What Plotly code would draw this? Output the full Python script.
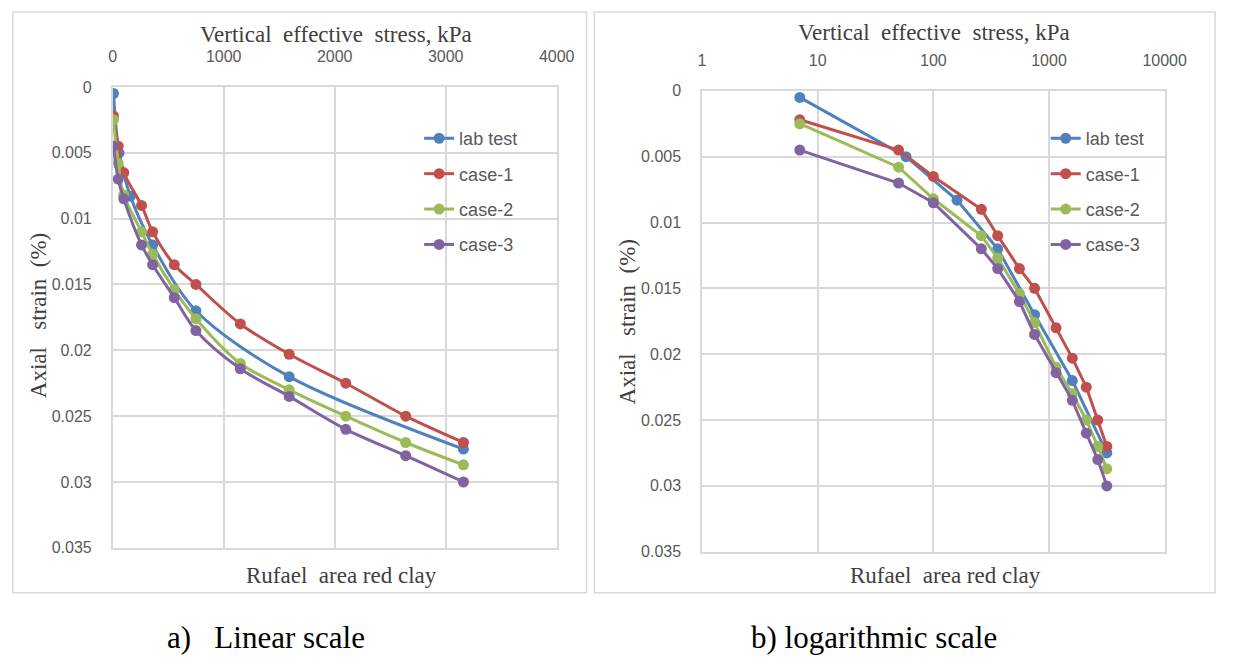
import plotly.graph_objects as go

# ---------------- data ----------------
stress = [7, 50, 100, 260, 360, 555, 750, 1150, 1590, 2100, 2640, 3160]
lab_stress = [7, 58, 160, 360, 750, 1590, 3160]
lab_test = [0.0005, 0.005, 0.0083, 0.012, 0.017, 0.022, 0.0275]
case_1 = [0.0022, 0.0045, 0.0065, 0.009, 0.011, 0.0135, 0.015, 0.018, 0.0203, 0.0225, 0.025, 0.027]
case_2 = [0.0025, 0.0058, 0.0082, 0.011, 0.0127, 0.0154, 0.0176, 0.021, 0.023, 0.025, 0.027, 0.0287]
case_3 = [0.0045, 0.007, 0.0085, 0.012, 0.0135, 0.016, 0.0185, 0.0214, 0.0235, 0.026, 0.028, 0.030]

series_names = ["lab test", "case-1", "case-2", "case-3"]
colors = ["#4F81BD", "#C0504D", "#9BBB59", "#8064A2"]

lin_xticks = [0, 1000, 2000, 3000, 4000]
log_xticks = [1, 10, 100, 1000, 10000]
y_ticks = [0, 0.005, 0.01, 0.015, 0.02, 0.025, 0.03, 0.035]
y_ticktext = ["0", "0.005", "0.01", "0.015", "0.02", "0.025", "0.03", "0.035"]

W, H = 1241, 665
def px(x):
    return x / W
def py(y):
    return 1 - y / H

TICK_FONT = dict(family="Liberation Sans Narrow, Arial Narrow, Liberation Sans, sans-serif", size=16, color="#595959")
SERIF = "Liberation Serif, Times New Roman, serif"
GRID = "#d9d9d9"

fig = go.Figure()

xs = [lab_stress, stress, stress, stress]
ys = [lab_test, case_1, case_2, case_3]

for i in range(4):
    fig.add_trace(go.Scatter(
        x=xs[i], y=ys[i], name=series_names[i], mode="lines+markers",
        line=dict(color=colors[i], width=3, shape="spline", smoothing=0.9),
        marker=dict(color=colors[i], size=11),
        xaxis="x", yaxis="y", legend="legend", legendgroup="L%d" % i,
    ))
for i in range(4):
    fig.add_trace(go.Scatter(
        x=xs[i], y=ys[i], name=series_names[i], mode="lines+markers",
        line=dict(color=colors[i], width=3),
        marker=dict(color=colors[i], size=11),
        xaxis="x2", yaxis="y2", legend="legend2", legendgroup="R%d" % i,
    ))

common_x = dict(side="top", showgrid=True, gridcolor=GRID, gridwidth=1.5,
                showline=True, mirror=True, linecolor=GRID, linewidth=1.5,
                zeroline=False, ticks="outside", ticklen=17, tickcolor="rgba(0,0,0,0)",
                tickfont=TICK_FONT)
common_y = dict(showgrid=True, gridcolor=GRID, gridwidth=1.5,
                showline=True, mirror=True, linecolor=GRID, linewidth=1.5,
                zeroline=False, ticks="outside", ticklen=16, tickcolor="rgba(0,0,0,0)",
                tickfont=TICK_FONT, range=[0.035, 0], tickvals=y_ticks, ticktext=y_ticktext)

legend_common = dict(font=dict(family=TICK_FONT["family"], size=18, color="#595959"),
                     bgcolor="rgba(0,0,0,0)", borderwidth=0, tracegroupgap=9,
                     xanchor="left", yanchor="top", traceorder="grouped")

fig.update_layout(
    width=W, height=H, margin=dict(l=0, r=0, t=0, b=0),
    paper_bgcolor="white", plot_bgcolor="white",
    xaxis=dict(domain=[px(111), px(564.5)], anchor="y", range=[0, 4000],
               tickvals=lin_xticks, ticktext=[str(v) for v in lin_xticks], **common_x),
    yaxis=dict(domain=[py(554), py(81)], anchor="x", **common_y),
    xaxis2=dict(domain=[px(713), px(1185.5)], anchor="y2", type="log", range=[0, 4],
                tickvals=log_xticks, ticktext=[str(v) for v in log_xticks], **common_x),
    yaxis2=dict(domain=[py(558), py(85)], anchor="x2", **common_y),
    legend=dict(x=px(424), y=py(115), **legend_common),
    legend2=dict(x=px(1064), y=py(115), **legend_common),
    showlegend=True,
)

nb = "\u00a0"
annotations = [
    dict(text="Vertical" + nb * 2 + "effective" + nb * 2 + "stress," + nb + "kPa", x=px(339), y=py(27), font_size=23),
    dict(text="Vertical" + nb * 2 + "effective" + nb * 2 + "stress," + nb + "kPa", x=px(950), y=py(25), font_size=23),
    dict(text="Axial" + nb * 3 + "strain" + nb * 2 + "(%)", x=px(36), y=py(316), font_size=23, textangle=-90),
    dict(text="Axial" + nb * 3 + "strain" + nb * 2 + "(%)", x=px(637), y=py(322), font_size=23, textangle=-90),
    dict(text="Rufael" + nb * 2 + "area red clay", x=px(345), y=py(582), font_size=23),
    dict(text="Rufael" + nb * 2 + "area red clay", x=px(962), y=py(582), font_size=23),
]
for a in annotations:
    fig.add_annotation(xref="paper", yref="paper", x=a["x"], y=a["y"], text=a["text"],
                       showarrow=False, textangle=a.get("textangle", 0),
                       font=dict(family=SERIF, size=a["font_size"], color="#404040"),
                       xanchor="center", yanchor="middle")

fig.add_annotation(xref="paper", yref="paper", x=px(164), y=py(646), text="a)" + nb * 3 + "Linear scale",
                   showarrow=False, xanchor="left", yanchor="middle",
                   font=dict(family=SERIF, size=31, color="black"))
fig.add_annotation(xref="paper", yref="paper", x=px(761), y=py(646), text="b) logarithmic scale",
                   showarrow=False, xanchor="left", yanchor="middle",
                   font=dict(family=SERIF, size=31, color="black"))

for (x0, x1) in [(9, 595), (603, 1237)]:
    fig.add_shape(type="rect", xref="paper", yref="paper", x0=px(x0), x1=px(x1), y0=py(600), y1=py(4),
                  line=dict(color=GRID, width=1.5), fillcolor="rgba(0,0,0,0)", layer="below")

fig.write_html("out.html",
               post_script="document.body.style.margin='0';document.body.style.overflow='hidden';")
